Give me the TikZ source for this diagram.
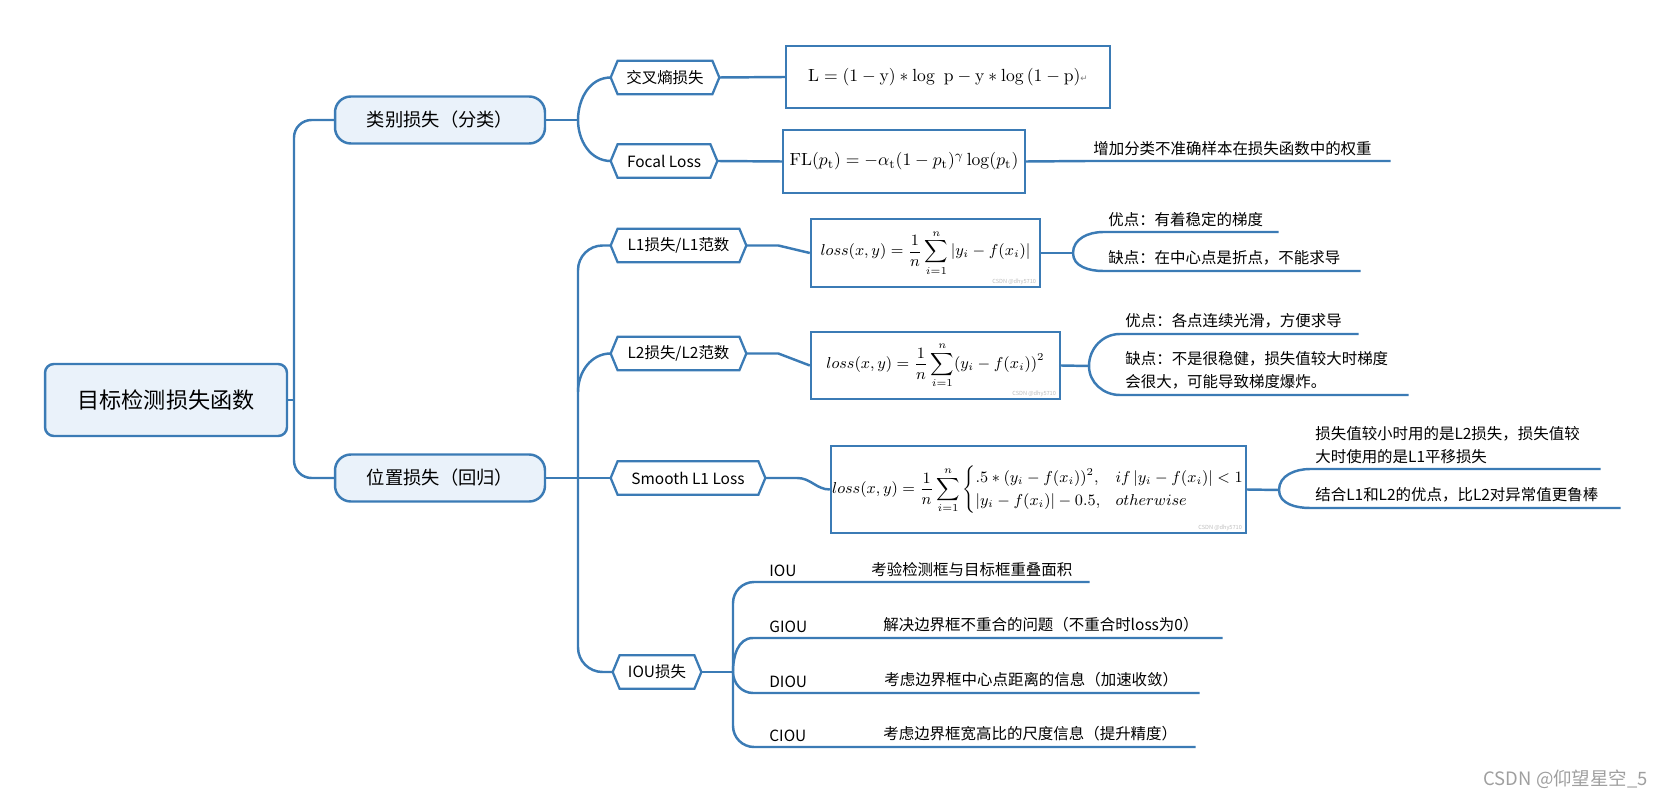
\documentclass[tikz,border=0pt]{standalone}
\usepackage{amsmath}
\usepackage[no-math]{fontspec}
\setmainfont{Noto Sans CJK SC}
\newfontfamily\retfont{DejaVu Sans}
\definecolor{Bc}{HTML}{3B7BB5}
\definecolor{Fc}{HTML}{EAF2FA}

\begin{document}
\begin{tikzpicture}[x=0.02cm, y=-0.02cm,
    link/.style={draw=Bc, line width=1.4pt},
    hexline/.style={draw=Bc, line width=1.3pt},
    rootbox/.style={draw=Bc, line width=1.4pt, fill=Fc, rounded corners=5pt, minimum width=4.84cm, minimum height=1.44cm, font=\fontsize{12.6}{15}\selectfont},
    pill/.style={draw=Bc, line width=1.4pt, fill=Fc, rounded corners=9pt, minimum width=4.2cm, minimum height=0.94cm, font=\fontsize{10.4}{12}\selectfont},
    hexbox/.style={minimum height=0.66cm, inner sep=0pt, font=\fontsize{8.8}{11}\selectfont},
    fbox/.style={draw=Bc, line width=1.4pt, fill=white, inner sep=0pt, font=\fontsize{9}{11}\selectfont},
    note/.style={anchor=south west, align=left, inner xsep=0.1cm, inner ysep=3pt, font=\fontsize{8.8}{13}\selectfont},
    tag/.style={anchor=south west, inner xsep=0.32cm, inner ysep=3pt, font=\fontsize{8.8}{13}\selectfont},
    wm/.style={anchor=south east, inner sep=0.5pt, text=gray!50, font=\fontsize{3.2}{4}\selectfont}]
  \useasboundingbox (0,0) rectangle (1666,800);

  \node[rootbox] (root) at (166,400) {目标检测损失函数};
  \node[pill] (cls) at (440,120) {类别损失（分类）};
  \node[pill] (reg) at (440,478) {位置损失（回归）};

  \node[hexbox, minimum width=2.16cm] (ce) at (665,77.5) {交叉熵损失};
  \node[hexbox, minimum width=2.12cm] (fl) at (664,161) {Focal Loss};
  \node[hexbox, minimum width=2.7cm] (l1) at (678.5,245.5) {L1损失/L1范数};
  \node[hexbox, minimum width=2.7cm] (l2) at (678.5,353.5) {L2损失/L2范数};
  \node[hexbox, minimum width=3.08cm] (sm) at (688,478) {Smooth L1 Loss};
  \node[hexbox, minimum width=1.76cm] (iou) at (657,672) {IOU损失};
  \foreach \n in {ce,fl,l1,l2,sm,iou}
    \draw[hexline] (\n.west) -- ([xshift=0.14cm]\n.north west) -- ([xshift=-0.14cm]\n.north east)
      -- (\n.east) -- ([xshift=-0.14cm]\n.south east) -- ([xshift=0.14cm]\n.south west) -- cycle;

  \node[fbox, minimum width=6.48cm, minimum height=1.24cm, font=\fontsize{9.8}{12}\selectfont] (f1) at (948,77)
    {$\mathrm{L}=(1-\mathrm{y})*\log\,\,\mathrm{p}-\mathrm{y}*\log{(1-\mathrm{p})}$\textcolor{gray}{\retfont\fontsize{5}{6}\selectfont ↵}};
  \node[fbox, minimum width=4.84cm, minimum height=1.26cm, font=\fontsize{9.8}{12}\selectfont] (f2) at (904,161.5)
    {$\mathrm{FL}(p_{\mathrm{t}})=-\alpha_{\mathrm{t}}(1-p_{\mathrm{t}})^{\gamma}\log(p_{\mathrm{t}})$};
  \node[fbox, minimum width=4.58cm, minimum height=1.36cm] (f3) at (925.5,253)
    {$\displaystyle loss(x,y)=\frac{1}{n}\sum_{i=1}^{n}|y_i-f(x_i)|$};
  \node[fbox, minimum width=4.98cm, minimum height=1.34cm] (f4) at (935.5,365.5)
    {$\displaystyle loss(x,y)=\frac{1}{n}\sum_{i=1}^{n}(y_i-f(x_i))^2$};
  \node[fbox, minimum width=8.3cm, minimum height=1.74cm, font=\fontsize{8.7}{11}\selectfont] (f5) at (1038.5,489.5)
    {$\displaystyle loss(x,y)=\frac{1}{n}\sum_{i=1}^{n}\begin{cases}.5*(y_i-f(x_i))^2, & if\,|y_i-f(x_i)|<1\\ |y_i-f(x_i)|-0.5, & otherwise\end{cases}$};
  \node[wm] (wm3) at ([xshift=-0.08cm,yshift=0.05cm]f3.south east) {CSDN @dhy5710};
  \node[wm] (wm4) at ([xshift=-0.08cm,yshift=0.05cm]f4.south east) {CSDN @dhy5710};
  \node[wm] (wm5) at ([xshift=-0.08cm,yshift=0.05cm]f5.south east) {CSDN @dhy5710};

  \node[note, text width=5.84cm] (n2) at (1088,161) {增加分类不准确样本在损失函数中的权重};
  \node[note, text width=3.3cm] (n3a) at (1103,232) {优点：有着稳定的梯度};
  \node[note, text width=4.94cm] (n3b) at (1103,271) {缺点：在中心点是折点，不能求导};
  \node[note, text width=4.56cm] (n4a) at (1120,334) {优点：各点连续光滑，方便求导};
  \node[note, text width=5.56cm] (n4b) at (1120,395) {缺点：不是很稳健，损失值较大时梯度\\会很大，可能导致梯度爆炸。};
  \node[note, text width=5.6cm] (n5a) at (1310,469) {损失值较小时用的是L2损失，损失值较\\大时使用的是L1平移损失};
  \node[note, text width=6.0cm] (n5b) at (1310,508) {结合L1和L2的优点，比L2对异常值更鲁棒};

  \node[tag] (t1) at (753,582) {IOU};
  \node[tag] (t2) at (753,638) {GIOU};
  \node[tag] (t3) at (753,693) {DIOU};
  \node[tag] (t4) at (753,747) {CIOU};
  \node[note, text width=4.26cm] (d1) at (866,582) {考验检测框与目标框重叠面积};
  \node[note, text width=6.68cm] (d2) at (878,638) {解决边界框不重合的问题（不重合时loss为0）};
  \node[note, text width=6.2cm] (d3) at (879,693) {考虑边界框中心点距离的信息（加速收敛）};
  \node[note, text width=6.14cm] (d4) at (878,747) {考虑边界框宽高比的尺度信息（提升精度）};

  \node[anchor=east, text=gray!75, font=\fontsize{10.5}{12}\selectfont] (csdn) at (1654,779) {CSDN @仰望星空\_5};

  \coordinate (tr) at (294,400);
  \coordinate (j1) at (578,120);
  \coordinate (b0) at (578,478);
  \coordinate (b2) at (578,392);
  \coordinate (j3) at (1073,253);
  \coordinate (j4) at (1089,366);
  \coordinate (j5) at (1279,490);
  \coordinate (j6) at (733,672);

  \draw[link] (root.east) -- (tr);
  \draw[link, rounded corners=10pt] (cls.west) -| (tr) |- (reg.west);
  \draw[link] (cls.east) -- (j1);
  \draw[link] (ce.west) to[out=180,in=90] (j1) to[out=-90,in=180] (fl.west);
  \draw[link] (reg.east) -- (sm.west);
  \draw[link, rounded corners=14pt] (l1.west) -| (b0) |- (iou.west);
  \draw[link] (b2) to[out=90,in=180] (l2.west);

  \draw[link] (ce.east) -- (f1.west);
  \draw[link] (fl.east) -- (f2.west);
  \draw[link] (l1.east) -- ++(32,0) -- (f3.west);
  \draw[link] (l2.east) -- ++(32,0) -- (f4.west);
  \draw[link] (sm.east) -- ++(32,0) to[out=0,in=180] (f5.west);

  \draw[link] (f2.east) -- (n2.south west) -- (n2.south east);
  \draw[link] (f3.east) -- (j3);
  \draw[link] (n3a.south east) -- (n3a.south west) to[out=180,in=90] (j3) to[out=-90,in=180] (n3b.south west) -- (n3b.south east);
  \draw[link] (f4.east) -- (j4);
  \draw[link] (n4a.south east) -- (n4a.south west) to[out=180,in=90] (j4) to[out=-90,in=180] (n4b.south west) -- (n4b.south east);
  \draw[link] (f5.east) -- (j5);
  \draw[link] (n5a.south east) -- (n5a.south west) to[out=180,in=90] (j5) to[out=-90,in=180] (n5b.south west) -- (n5b.south east);

  \draw[link] (iou.east) -- (j6);
  \draw[link, rounded corners=12pt] (d1.south east) -| (j6) |- (d4.south east);
  \draw[link] (d2.south east) -- (t2.south west) to[out=180,in=90] (j6) to[out=-90,in=180] (t3.south west) -- (d3.south east);
\end{tikzpicture}
\end{document}
